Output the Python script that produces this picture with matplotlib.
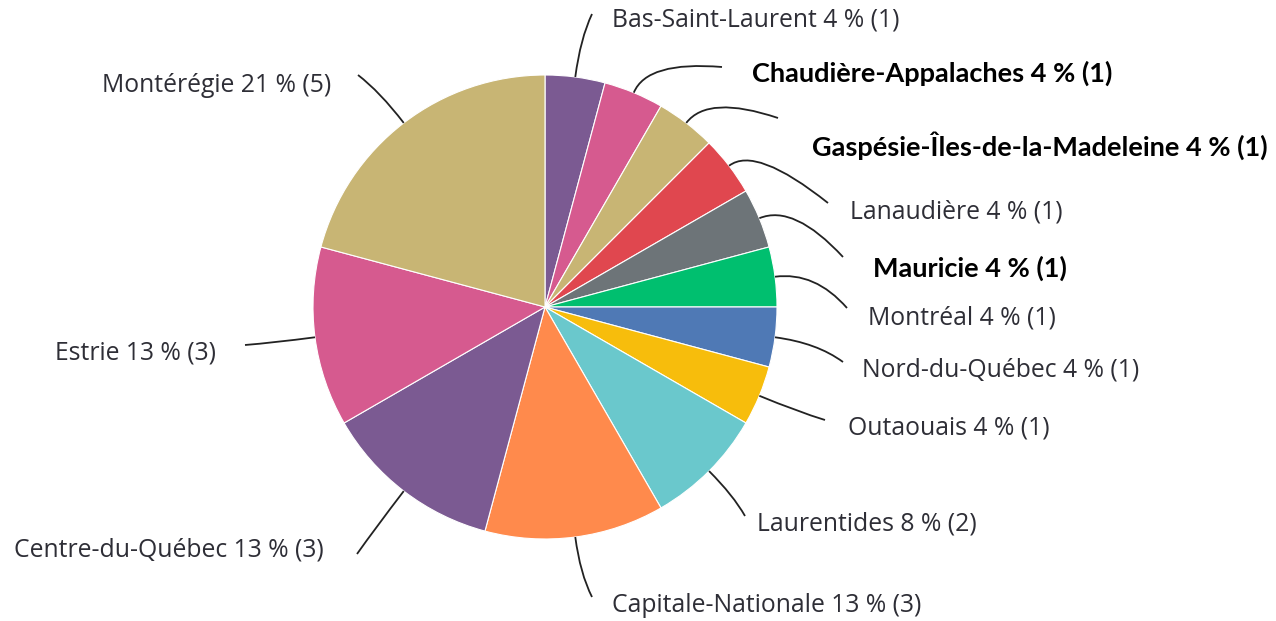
import numpy as np
import matplotlib.pyplot as plt
from matplotlib.path import Path
from matplotlib.patches import PathPatch

# régions, nombre de réponses
regions = ["Bas-Saint-Laurent", "Chaudière-Appalaches", "Gaspésie-Îles-de-la-Madeleine",
           "Lanaudière", "Mauricie", "Montréal", "Nord-du-Québec", "Outaouais",
           "Laurentides", "Capitale-Nationale", "Centre-du-Québec", "Estrie", "Montérégie"]
counts = [1, 1, 1, 1, 1, 1, 1, 1, 2, 3, 3, 3, 5]
percents = [4, 4, 4, 4, 4, 4, 4, 4, 8, 13, 13, 13, 21]
bold_labels = ["Chaudière-Appalaches", "Gaspésie-Îles-de-la-Madeleine", "Mauricie"]

colors = ["#7b5a92", "#d65a8f", "#c8b574", "#e0474f", "#6d7478", "#00bf6f", "#4f79b5",
          "#f7bd0c", "#6ac8cc", "#ff8a4c", "#7b5a92", "#d65a8f", "#c8b574"]

# mise en page (pixels depuis le haut de l'image)
W, H = 1276, 621
cx, cy, R = 545, 307, 232
line_ends = [(592, 14), (722, 67), (778, 118), (828, 203), (843, 257), (847, 308),
             (843, 362), (825, 420), (745, 516), (592, 597), (357, 554), (245, 345),
             (358, 75)]
text_pos = [(612, 20), (752, 73), (812, 146), (850, 212), (873, 268), (868, 318),
            (862, 370), (848, 428), (757, 524), (612, 605), (14, 550), (55, 353),
            (102, 85)]

fig = plt.figure(figsize=(W / 100, H / 100), dpi=100)
ax = fig.add_axes([0, 0, 1, 1])

wedges, _ = ax.pie(counts, colors=colors, startangle=90, counterclock=False,
                   center=(cx, H - cy), radius=R,
                   wedgeprops=dict(edgecolor="white", linewidth=0.8))
ax.set_xlim(0, W)
ax.set_ylim(0, H)
ax.set_aspect("equal")
ax.axis("off")

for i, w in enumerate(wedges):
    # trait de rappel : part du bord de la part, courbe vers l'étiquette
    mid = np.deg2rad((w.theta1 + w.theta2) / 2)
    u = np.array([np.cos(mid), np.sin(mid)])
    p0 = np.array([cx, H - cy]) + u * R
    p2 = np.array([line_ends[i][0], H - line_ends[i][1]])
    d = max(np.dot(p2 - p0, u), 0) * 0.6
    p1 = p0 + u * d
    path = Path([p0, p1, p2], [Path.MOVETO, Path.CURVE3, Path.CURVE3])
    ax.add_patch(PathPatch(path, fill=False, edgecolor="#222222", linewidth=1.3))

    label = f"{regions[i]} {percents[i]} % ({counts[i]})"
    tx, ty = text_pos[i]
    if regions[i] in bold_labels:
        ax.text(tx, H - ty, label, ha="left", va="center", fontsize=19.5,
                fontweight="bold", family="Lato", color="black")
    else:
        ax.text(tx, H - ty, label, ha="left", va="center", fontsize=17.8,
                family="Open Sans", color="#2e2e36")

fig.savefig("out.png", dpi=100)
